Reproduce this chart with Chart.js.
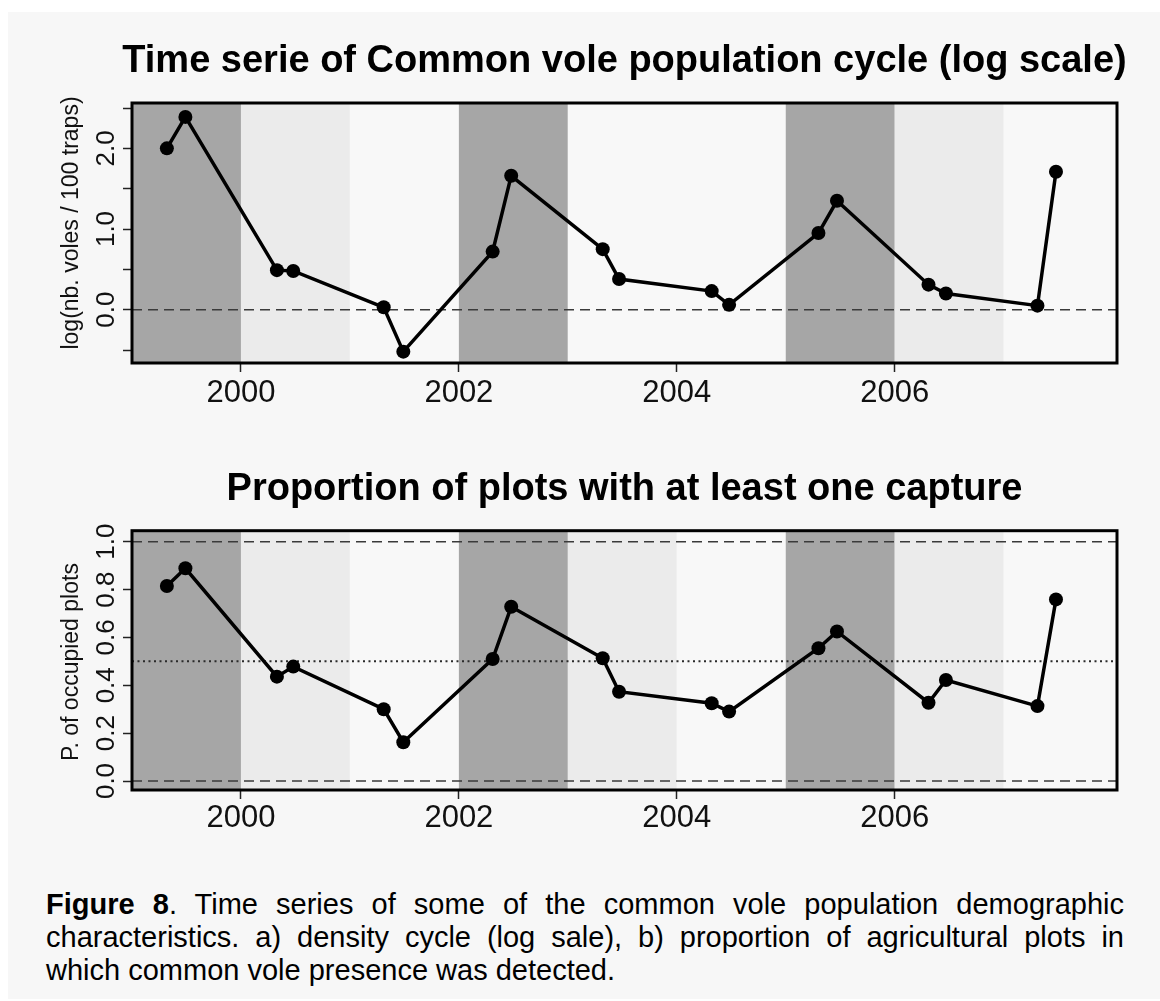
<!DOCTYPE html>
<html><head><meta charset="utf-8">
<script src="https://cdn.jsdelivr.net/npm/chart.js@4.4.1/dist/chart.umd.min.js"></script>
<style>
html,body{margin:0;padding:0;background:#fff;}
#page{position:absolute;left:8px;top:12px;width:1152px;height:987px;background:#f7f7f7;}
canvas{position:absolute;left:0;}
#c1{top:0;} #c2{top:430px;}
#caption{position:absolute;left:46px;top:888px;width:1078px;font-family:"Liberation Sans",Arial,Helvetica,sans-serif;font-size:29px;line-height:33px;color:#000;}
.jl{text-align:justify;text-align-last:justify;}
</style></head>
<body>
<div id="page"></div>
<canvas id="c1" width="1160" height="430"></canvas>
<canvas id="c2" width="1160" height="420"></canvas>
<div id="caption">
<div class="jl"><b>Figure 8</b>. Time series of some of the common vole population demographic</div>
<div class="jl">characteristics. a) density cycle (log sale), b) proportion of agricultural plots in</div>
<div>which common vole presence was detected.</div>
</div>
<script>
// ---- data ----
const sampleDates = [1999.32, 1999.49, 2000.33, 2000.48, 2001.31, 2001.49, 2002.31, 2002.48, 2003.32, 2003.47,
                     2004.32, 2004.48, 2005.30, 2005.47, 2006.31, 2006.47, 2007.31, 2007.48];
const logDensity = [2.00, 2.39, 0.49, 0.48, 0.03, -0.52, 0.72, 1.66, 0.75, 0.38,
                    0.23, 0.06, 0.95, 1.35, 0.31, 0.20, 0.05, 1.71];
const propOccupied = [0.815, 0.889, 0.436, 0.478, 0.30, 0.162, 0.51, 0.728, 0.513, 0.373,
                      0.325, 0.29, 0.555, 0.625, 0.327, 0.422, 0.313, 0.759];
const xTickYears = [2000, 2002, 2004, 2006];
const xTickLabels = ['2000', '2002', '2004', '2006'];
const yTopTicks = [-0.5, 0, 0.5, 1, 1.5, 2, 2.5];
const yTopLabels = ['', '0.0', '', '1.0', '', '2.0', ''];
const yBotTicks = [0, 0.2, 0.4, 0.6, 0.8, 1.0];
const yBotLabels = ['0.0', '0.2', '0.4', '0.6', '0.8', '1.0'];
const bandYears = [1999, 2000, 2001, 2002, 2003, 2004, 2005, 2006, 2007];
const topBandShade = ['dark', 'light', 'white', 'dark', 'white', 'white', 'dark', 'light', 'white'];
const botBandShade = ['dark', 'light', 'white', 'dark', 'light', 'white', 'dark', 'light', 'white'];
const topDashed = [0];
const topDotted = [];
const botDashed = [0, 1];
const botDotted = [0.5];
const topTitle = 'Time serie of Common vole population cycle (log scale)';
const botTitle = 'Proportion of plots with at least one capture';
const topYTitle = 'log(nb. voles / 100 traps)';
const botYTitle = 'P. of occupied plots';

// ---- styling ----
const FONT = '"Liberation Sans", Arial, Helvetica, sans-serif';
const SHADE = {dark: '#a6a6a6', light: '#ebebeb', white: '#f8f8f8'};

const decor = {
  id: 'decor',
  beforeDatasetsDraw(chart, args, o) {
    const {ctx, chartArea: a, scales: {x, y}} = chart;
    ctx.save();
    o.shades.forEach((s, i) => {
      const x0 = x.getPixelForValue(bandYears[i]);
      const x1 = i + 1 < bandYears.length ? x.getPixelForValue(bandYears[i + 1]) : a.right;
      ctx.fillStyle = SHADE[s];
      ctx.fillRect(x0, a.top, x1 - x0, a.bottom - a.top);
    });
    ctx.strokeStyle = '#3a3a3a';
    ctx.lineWidth = 1.6;
    ctx.setLineDash([10, 6]);
    o.dashed.forEach(v => {
      const py = y.getPixelForValue(v);
      ctx.beginPath(); ctx.moveTo(a.left, py); ctx.lineTo(a.right, py); ctx.stroke();
    });
    ctx.lineWidth = 2;
    ctx.strokeStyle = '#2a2a2a';
    ctx.setLineDash([2, 3.5]);
    o.dotted.forEach(v => {
      const py = y.getPixelForValue(v);
      ctx.beginPath(); ctx.moveTo(a.left, py); ctx.lineTo(a.right, py); ctx.stroke();
    });
    ctx.restore();
  },
  afterDatasetsDraw(chart, args, o) {
    const {ctx, chartArea: a} = chart;
    ctx.save();
    ctx.strokeStyle = '#000';
    ctx.lineWidth = 3;
    ctx.strokeRect(a.left, a.top, a.right - a.left, a.bottom - a.top);
    ctx.fillStyle = '#000';
    ctx.textAlign = 'center';
    ctx.textBaseline = 'middle';
    ctx.font = 'bold 38px ' + FONT;
    ctx.fillText(o.title, (a.left + a.right) / 2, o.titleY);
    ctx.translate(o.yTitleX, o.yTitleY);
    ctx.rotate(-Math.PI / 2);
    ctx.font = '23px ' + FONT;
    ctx.fillStyle = '#111';
    ctx.fillText(o.yTitle, 0, 0);
    ctx.restore();
  }
};

function makeChart(id, values, cfg) {
  const pts = sampleDates.map((d, i) => ({x: d, y: values[i]}));
  const canvas = document.getElementById(id);
  return new Chart(canvas, {
    type: 'scatter',
    data: {datasets: [{
      data: pts, showLine: true, borderColor: '#000', borderWidth: 3.5,
      pointRadius: 7, pointBackgroundColor: '#000', pointBorderWidth: 0, tension: 0
    }]},
    options: {
      responsive: false, animation: false, devicePixelRatio: 1,
      layout: {padding: {top: cfg.plotTop, right: 43, left: 0, bottom: 0}},
      plugins: {
        legend: {display: false}, tooltip: {enabled: false},
        decor: {shades: cfg.shades, dashed: cfg.dashed, dotted: cfg.dotted, title: cfg.title, titleY: cfg.titleY,
                yTitle: cfg.yTitle, yTitleX: 72, yTitleY: cfg.yTitleY}
      },
      scales: {
        x: {
          type: 'linear', min: 1999, max: 2008.04, bounds: 'data',
          afterBuildTicks: s => { s.ticks = xTickYears.map(v => ({value: v})); },
          afterFit: s => { s.height = cfg.xAxisHeight; },
          grid: {drawOnChartArea: false, drawTicks: true, tickLength: 9, tickColor: '#222', tickWidth: 1.5, color: '#222'},
          border: {display: false},
          ticks: {autoSkip: false, maxRotation: 0, minRotation: 0, padding: cfg.xPad, color: '#111',
                  font: {family: FONT, size: 31}, callback: (v, i) => xTickLabels[i]}
        },
        y: {
          type: 'linear', min: cfg.yMin, max: cfg.yMax, bounds: 'data',
          afterBuildTicks: s => { s.ticks = cfg.yTicks.map(v => ({value: v})); },
          afterFit: s => { s.width = 132; },
          grid: {drawOnChartArea: false, drawTicks: true, tickLength: 9, tickColor: '#222', tickWidth: 1.5, color: '#222'},
          border: {display: false},
          ticks: {autoSkip: false, minRotation: 90, maxRotation: 90, crossAlign: 'center', padding: -2, color: '#111',
                  font: {family: FONT, size: 26}, callback: (v, i) => cfg.yLabels[i]}
        }
      }
    },
    plugins: [decor]
  });
}

makeChart('c1', logDensity, {
  plotTop: 103, xAxisHeight: 430 - 363, xPad: 3, yMin: -0.661, yMax: 2.562,
  yTicks: yTopTicks, yLabels: yTopLabels, shades: topBandShade, dashed: topDashed, dotted: topDotted,
  title: topTitle, titleY: 62, yTitle: topYTitle, yTitleY: 223
});
makeChart('c2', propOccupied, {
  plotTop: 100.7, xAxisHeight: 60, xPad: 1, yMin: -0.0376, yMax: 1.046,
  yTicks: yBotTicks, yLabels: yBotLabels, shades: botBandShade, dashed: botDashed, dotted: botDotted,
  title: botTitle, titleY: 59.5, yTitle: botYTitle, yTitleY: 232
});
</script>
</body></html>
